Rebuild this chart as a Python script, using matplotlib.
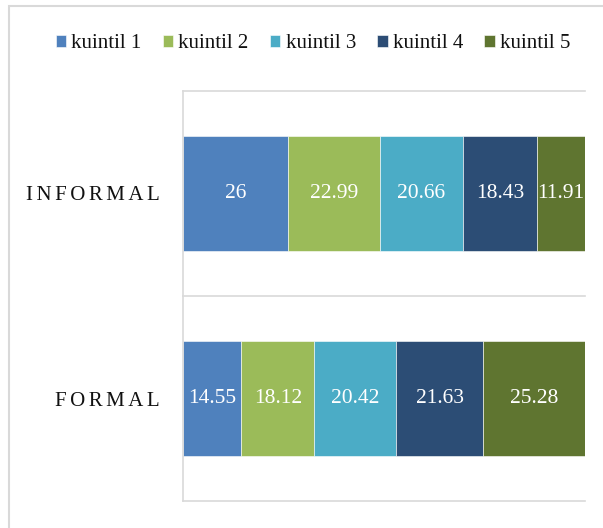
import matplotlib
matplotlib.use("Agg")
import matplotlib.pyplot as plt
from matplotlib.patches import Rectangle

categories = ["FORMAL", "INFORMAL"]
series_names = ["kuintil 1", "kuintil 2", "kuintil 3", "kuintil 4", "kuintil 5"]
formal = [14.55, 18.12, 20.42, 21.63, 25.28]
informal = [26, 22.99, 20.66, 18.43, 11.91]
colors = ["#4F81BD", "#9BBB59", "#4BACC6", "#2C4D75", "#5F7530"]

W, H = 603, 528
fig = plt.figure(figsize=(W / 100, H / 100), dpi=100)
plt.rcParams['font.family'] = ['Liberation Serif', 'DejaVu Serif']

# outer chart border
fig.patches.append(Rectangle((9 / W, -0.1), 1.2, 1 - 6 / H + 0.1, transform=fig.transFigure,
                             fill=False, edgecolor="#D9D9D9", linewidth=1.5))

ax = fig.add_axes([183 / W, 1 - 501 / H, (585 - 183) / W, (501 - 91) / H])
values = [formal, informal]
ypos = list(range(len(categories)))
left = [0.0] * len(categories)
for i, name in enumerate(series_names):
    widths = [values[c][i] for c in ypos]
    bars = ax.barh(ypos, widths, left=left, height=0.56, color=colors[i],
                   edgecolor="#FFFFFF", linewidth=0.4, label=name)
    for b, w in zip(bars, widths):
        ax.text(b.get_x() + b.get_width() / 2, b.get_y() + b.get_height() / 2,
                f"{w:g}", ha="center", va="center", color="white", fontsize=15.5)
    left = [l + w for l, w in zip(left, widths)]

ax.set_xlim(0, 100)
ax.set_ylim(-0.5, len(categories) - 0.5)
for s in ["top", "right", "bottom"]:
    ax.spines[s].set_visible(False)
ax.spines["left"].set_color("#D9D9D9")
ax.spines["left"].set_linewidth(1.2)
for yb in [-0.5, 0.5, 1.5]:
    ax.axhline(yb, color="#D9D9D9", linewidth=1.2, zorder=0, clip_on=False)
ax.set_xticks([])
ax.set_yticks(ypos)
ax.set_yticklabels(["\u2006".join(c) for c in categories], fontsize=15, color="#111111")
ax.tick_params(axis="y", length=0, pad=16.5)

handles, labels = ax.get_legend_handles_labels()
leg = fig.legend(handles, labels, loc="center", bbox_to_anchor=(313 / W, 1 - 44 / H), ncol=5,
                 frameon=False, fontsize=15, handlelength=0.5, handleheight=0.5,
                 handletextpad=0.25, columnspacing=1.02, borderaxespad=0, borderpad=0)
for t in leg.get_texts():
    t.set_color("#111111")

fig.savefig("out.png", dpi=100)
